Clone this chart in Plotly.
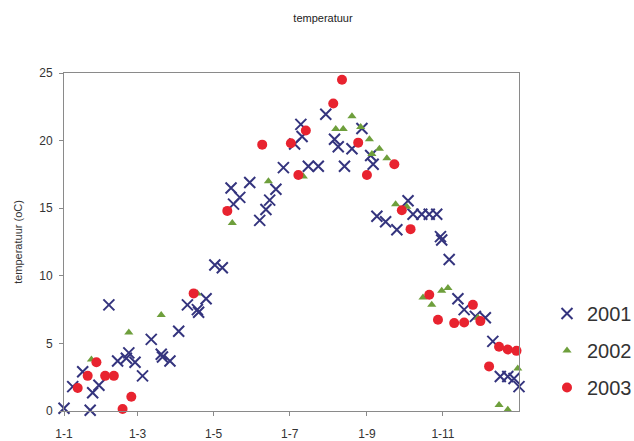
import plotly.graph_objects as go
import pandas as pd

# day-of-year offsets (0 = 1 January) and temperatures (oC)
days_2001 = [0, 7, 15, 21, 23, 28, 36, 43, 50, 52, 57, 63, 70, 78, 79, 85, 92, 99,
             107, 108, 114, 121, 127, 134, 136, 141, 149, 157, 162, 165, 170, 176,
             185, 190, 191, 196, 204, 210, 217, 220, 225, 231, 239, 246, 248, 251,
             258, 267, 276, 280, 287, 293, 299, 302, 303, 309, 316, 321, 330, 338,
             344, 350, 356, 361, 365]
temp_2001 = [0.2, 1.8, 2.9, 0.05, 1.35, 1.9, 7.85, 3.7, 3.9, 4.3, 3.6, 2.6, 5.3, 4.2,
             4.0, 3.7, 5.9, 7.85, 7.5, 7.3, 8.3, 10.8, 10.6, 16.5, 15.3, 15.8, 16.9,
             14.1, 14.9, 15.6, 16.4, 18.0, 19.75, 21.2, 20.3, 18.1, 18.1, 21.95, 20.1,
             19.55, 18.1, 19.4, 20.9, 18.9, 18.25, 14.4, 14.0, 13.4, 15.55, 14.55,
             14.55, 14.55, 14.55, 12.9, 12.65, 11.2, 8.3, 7.5, 7.0, 6.9, 5.15, 2.55,
             2.55, 2.4, 1.8]

days_2002 = [22, 52, 78, 107, 135, 164, 192, 218, 224, 231, 238, 245, 247, 253, 259,
             266, 275, 288, 295, 303, 308, 332, 349, 356, 364]
temp_2002 = [3.8, 5.8, 7.1, 8.7, 13.9, 17.0, 17.35, 20.85, 20.85, 21.8, 21.0, 20.1,
             19.0, 19.4, 18.7, 15.3, 15.1, 8.4, 7.85, 8.9, 9.1, 6.9, 0.45, 0.1, 3.15]

days_2003 = [11, 19, 26, 33, 40, 47, 54, 104, 131, 159, 182, 188, 194, 216, 223, 236,
             243, 265, 271, 278, 293, 300, 313, 321, 328, 334, 341, 349, 356, 363]
temp_2003 = [1.7, 2.6, 3.6, 2.6, 2.6, 0.15, 1.05, 8.7, 14.8, 19.7, 19.8, 17.45, 20.75,
             22.75, 24.5, 19.85, 17.45, 18.25, 14.85, 13.45, 8.6, 6.75, 6.5, 6.55, 7.85,
             6.65, 3.3, 4.75, 4.55, 4.45]

tick_dates = ["2001-01-01", "2001-03-01", "2001-05-01", "2001-07-01", "2001-09-01", "2001-11-01"]
tick_labels = ["1-1", "1-3", "1-5", "1-7", "1-9", "1-11"]

base = pd.Timestamp("2001-01-01")


def to_dates(days):
    return [base + pd.Timedelta(days=d) for d in days]


FONT = "Liberation Sans, Arial, sans-serif"

fig = go.Figure()
fig.add_trace(go.Scatter(
    x=to_dates(days_2001), y=temp_2001, mode="markers", name="2001",
    legendgroup="a",
    marker=dict(symbol="x-thin-open", size=11, color="#34347e",
                line=dict(width=2, color="#34347e")),
    cliponaxis=False))
fig.add_trace(go.Scatter(
    x=to_dates(days_2002), y=temp_2002, mode="markers", name="2002",
    legendgroup="b",
    marker=dict(symbol="triangle-up", size=8, color="#6e9f3c"),
    cliponaxis=False))
fig.add_trace(go.Scatter(
    x=to_dates(days_2003), y=temp_2003, mode="markers", name="2003",
    legendgroup="c",
    marker=dict(symbol="circle", size=10, color="#e8232f"),
    cliponaxis=False))

fig.update_layout(
    width=634, height=441,
    margin=dict(l=64, r=115, t=73, b=30),
    paper_bgcolor="white", plot_bgcolor="white",
    font=dict(family=FONT, color="#333333", size=12),
    title=dict(text="temperatuur", x=323 / 634, xref="container", xanchor="center",
               y=1 - 18 / 441, yref="container", yanchor="middle",
               font=dict(size=11, family=FONT, color="#222222")),
    legend=dict(xref="container", yref="container",
                x=547 / 634, xanchor="left", y=1 - 294 / 441, yanchor="top",
                traceorder="grouped", tracegroupgap=8,
                font=dict(size=20, family=FONT, color="#333333"),
                bgcolor="rgba(0,0,0,0)"),
    xaxis=dict(
        type="date", range=["2001-01-01", "2002-01-01"],
        tickvals=tick_dates, ticktext=tick_labels, automargin=False,
        showgrid=False, zeroline=False,
        showline=True, linecolor="#8a8a8a", linewidth=1, mirror=True,
        ticks="outside", ticklen=4, tickcolor="#8a8a8a", ticklabelstandoff=8,
        tickfont=dict(size=12, color="#333333")),
    yaxis=dict(
        range=[0, 25], tickvals=[0, 5, 10, 15, 20, 25], automargin=False,
        showgrid=False, zeroline=False,
        showline=True, linecolor="#8a8a8a", linewidth=1, mirror=True,
        ticks="outside", ticklen=4, tickcolor="#8a8a8a", ticklabelstandoff=4,
        tickfont=dict(size=12, color="#333333"),
        title=dict(text="temperatuur (oC)", font=dict(size=11, color="#333333"),
                   standoff=14)),
)

fig.write_html("out.html")
